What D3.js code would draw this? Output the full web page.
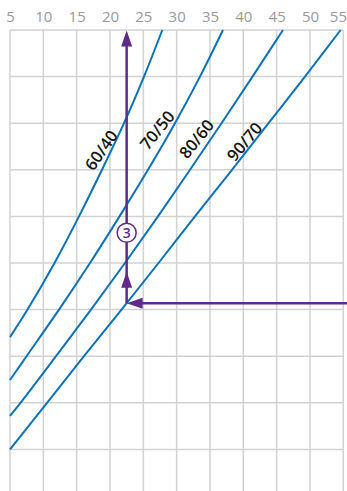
<!DOCTYPE html>
<html>
<head>
<meta charset="utf-8">
<script src="https://cdn.jsdelivr.net/npm/d3@7"></script>
<style>
  body { margin: 0; background: #fff; }
  svg { display: block; font-family: "Open Sans", sans-serif; }
</style>
</head>
<body>
<svg id="chart" width="347" height="491"></svg>
<script>
// tick labels along the top
const xTicks = [5, 10, 15, 20, 25, 30, 35, 40, 45, 50, 55];
// horizontal grid levels (no labels in the picture)
const yLevels = [0, 1, 2, 3, 4, 5, 6, 7, 8, 9, 10];

// curve points: [x, level]
const curve6040 = [[5, 3.41], [7.63, 4], [11.68, 5], [15.35, 6], [18.8, 7], [22.1, 8], [25.1, 9], [27.85, 10]];
const curve7050 = [[5, 2.49], [7.48, 3], [12.35, 4], [17.0, 5], [21.43, 6], [25.7, 7], [29.75, 8], [33.5, 9], [36.95, 10]];
const curve8060 = [[5, 1.72], [6.58, 2], [11.9, 3], [17.15, 4], [22.25, 5], [27.2, 6], [32.0, 7], [36.73, 8], [41.38, 9], [45.95, 10]];
const curve9070 = [[5, 1], [10.55, 2], [16.1, 3], [21.73, 4], [27.28, 5], [32.75, 6], [38.3, 7], [43.78, 8], [49.25, 9], [54.6, 10]];
const curveNames = ["60/40", "70/50", "80/60", "90/70"];

// reading example (step 3)
const readX = 22.5;
const readLevel = 4.135;
const stepLabel = "3";

const svg = d3.select("#chart");
const blue = "#0a72b9";
const purple = "#5f2a8b";

const x = d3.scaleLinear().domain([5, 55]).range([10, 343.3]);
const y = d3.scaleLinear().domain([0, 10]).range([496, 30]);

// grid
svg.append("g")
  .selectAll("line")
  .data(xTicks)
  .join("line")
  .attr("x1", (d) => x(d))
  .attr("x2", (d) => x(d))
  .attr("y1", y(10))
  .attr("y2", y(0))
  .attr("stroke", "#d2d2d2")
  .attr("stroke-width", 1.5);

svg.append("g")
  .selectAll("line")
  .data(yLevels)
  .join("line")
  .attr("x1", x(5))
  .attr("x2", x(55))
  .attr("y1", (d) => y(d))
  .attr("y2", (d) => y(d))
  .attr("stroke", "#d2d2d2")
  .attr("stroke-width", 1.5);

// top axis, labels only
const axis = svg.append("g")
  .attr("transform", `translate(0,${y(10) - 8.5})`)
  .call(d3.axisTop(x).tickValues(xTicks).tickSize(0).tickPadding(0));
axis.select(".domain").remove();
axis.selectAll("text")
  .attr("fill", "#9a9a9a")
  .style("font-size", "15px")
  .style("font-family", "'Open Sans', sans-serif");
// last label sits against the right edge
axis.selectAll(".tick:last-of-type text")
  .attr("text-anchor", "end")
  .attr("x", 346.5 - x(55));

// curves
const line = d3.line()
  .x((d) => x(d[0]))
  .y((d) => y(d[1]))
  .curve(d3.curveCatmullRom);

svg.append("g")
  .selectAll("path")
  .data([curve6040, curve7050, curve8060, curve9070])
  .join("path")
  .attr("d", line)
  .attr("fill", "none")
  .attr("stroke", blue)
  .attr("stroke-width", 2);

// curve labels: [x, level, angle]
const labelAt = [[18.7, 7.42, -55], [27.1, 7.85, -51], [33.0, 7.66, -51], [40.2, 7.6, -50]];
svg.append("g")
  .selectAll("text")
  .data(curveNames)
  .join("text")
  .attr("transform", (d, i) =>
    `translate(${x(labelAt[i][0])},${y(labelAt[i][1])}) rotate(${labelAt[i][2]})`)
  .attr("text-anchor", "middle")
  .attr("dy", "0.35em")
  .attr("fill", "#161616")
  .style("font-size", "16.5px")
  .style("font-weight", 600)
  .text((d) => d);

// reading arrows
const cx = x(readX);
const cy = y(readLevel);
const ann = svg.append("g");
ann.append("line")
  .attr("x1", 347).attr("x2", cx + 10)
  .attr("y1", cy).attr("y2", cy)
  .attr("stroke", purple).attr("stroke-width", 2.5);
ann.append("line")
  .attr("x1", cx).attr("x2", cx)
  .attr("y1", cy).attr("y2", y(9.9) + 10)
  .attr("stroke", purple).attr("stroke-width", 2.5);

const head = (tx, ty, dir) => {
  // dir: "left" or "up"
  const len = 16, half = 5.5;
  if (dir === "left") return `M${tx},${ty}L${tx + len},${ty - half}L${tx + len},${ty + half}Z`;
  return `M${tx},${ty}L${tx - half},${ty + len}L${tx + half},${ty + len}Z`;
};
ann.append("path").attr("d", head(cx, cy, "left")).attr("fill", purple);
ann.append("path").attr("d", head(cx, y(9.99), "up")).attr("fill", purple);
ann.append("path").attr("d", head(cx, y(4.81), "up")).attr("fill", purple);

ann.append("circle")
  .attr("cx", cx).attr("cy", y(5.65)).attr("r", 9.5)
  .attr("fill", "#fff").attr("stroke", purple).attr("stroke-width", 1.5);
ann.append("text")
  .attr("x", cx).attr("y", y(5.65))
  .attr("dy", "0.36em")
  .attr("text-anchor", "middle")
  .attr("fill", purple)
  .style("font-size", "14px")
  .style("font-weight", 600)
  .text(stepLabel);
</script>
</body>
</html>
